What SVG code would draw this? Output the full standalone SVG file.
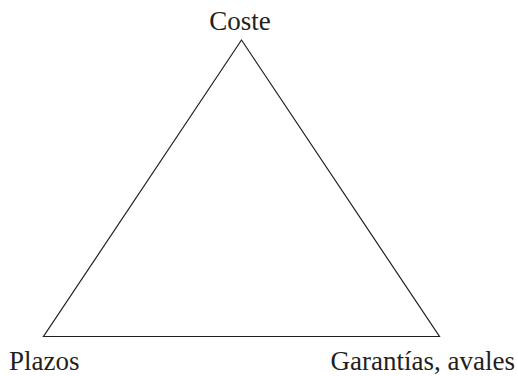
<svg xmlns="http://www.w3.org/2000/svg" width="518" height="376" viewBox="0 0 518 376">
<style>
text{font-family:'Liberation Serif','DejaVu Serif',serif;font-size:27px;fill:#231f20}
.edge{fill:none;stroke:#231f20;stroke-width:1.2}
</style>
<rect width="518" height="376" fill="#fff"/>
<g id="connectors">
<polygon class="edge" points="241.5,40 43.5,336.5 439.5,336.5"/>
</g>
<g id="coste"><text x="240" y="29.5" text-anchor="middle" font-family="Liberation Serif, serif">Coste</text></g>
<g id="plazos"><text x="9" y="369.5" font-family="Liberation Serif, serif">Plazos</text></g>
<g id="garantias"><text x="515" y="369.5" text-anchor="end" font-family="Liberation Serif, serif">Garantías, avales</text></g>
</svg>
